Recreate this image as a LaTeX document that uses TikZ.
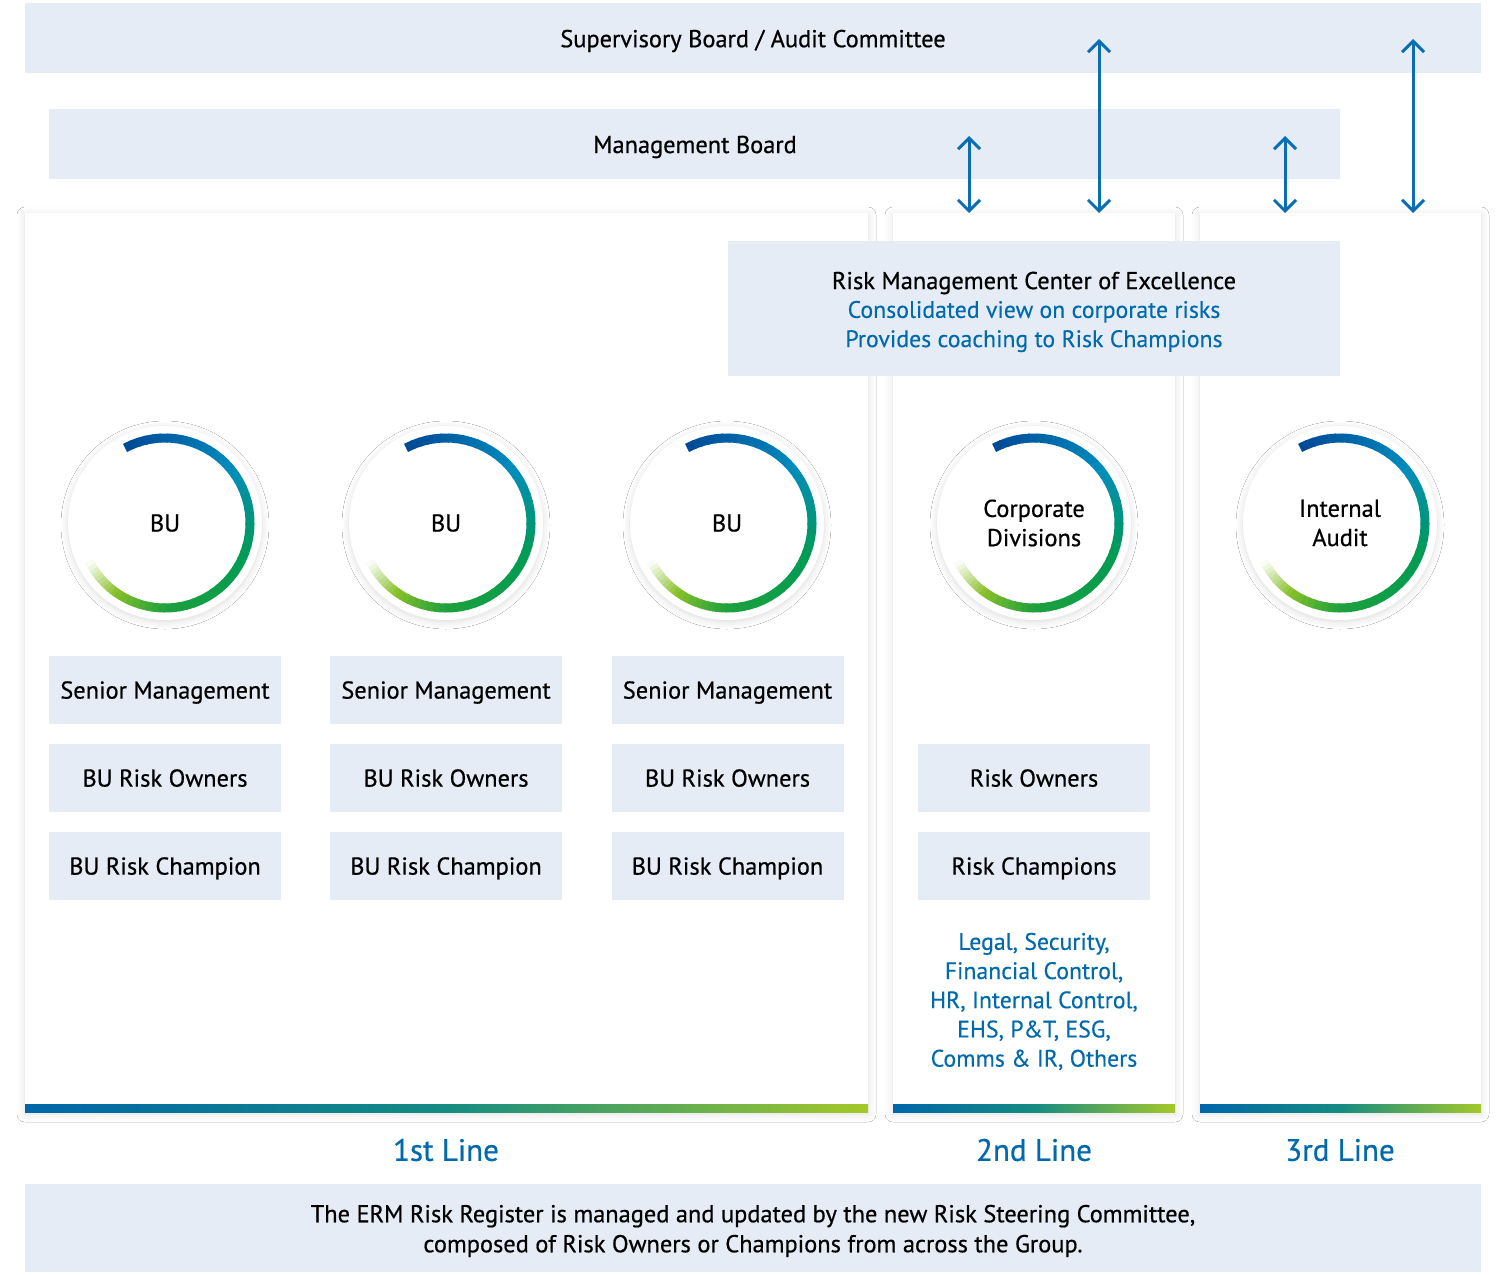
\documentclass[tikz,border=0pt]{standalone}
\usepackage{fontspec}
\setmainfont{PT Sans}[FakeBold=0.6]
\newfontfamily\bluefont{PT Sans}[FakeBold=0.3]
\usetikzlibrary{arrows.meta,calc,shadows.blur}
\definecolor{boxfill}{RGB}{230,236,246}
\definecolor{txtblue}{RGB}{0,106,172}
\definecolor{arrblue}{RGB}{10,110,180}
\definecolor{rdkblue}{RGB}{0,72,150}
\definecolor{rtblue}{RGB}{0,140,190}
\definecolor{rtgreen}{RGB}{0,155,85}
\definecolor{rgreen}{RGB}{30,160,60}
\definecolor{rygreen}{RGB}{135,192,40}
\definecolor{barblue}{RGB}{0,102,170}
\definecolor{barmid}{RGB}{20,140,130}
\definecolor{bargreen}{RGB}{165,200,40}
\newcommand\ringpart[6]{%
  \foreach \k in {1,...,#6}{%
    \pgfmathsetmacro\aa{#2+(#3-#2)*(\k-1)/#6}%
    \pgfmathsetmacro\bb{#2+(#3-#2)*(\k+0.2)/#6}%
    \pgfmathtruncatemacro\pp{100*(\k-0.5)/#6}%
    \draw[line width=4.5pt, #5!\pp!#4] ($(#1)+(\aa:42.5pt)$) arc[start angle=\aa, end angle=\bb, radius=42.5pt];
  }}
\newcommand\ring[1]{%
  \ringpart{#1}{118}{40}{rdkblue}{rtblue}{16}%
  \ringpart{#1}{40}{-20}{rtblue}{rtgreen}{12}%
  \ringpart{#1}{-20}{-90}{rtgreen}{rgreen}{14}%
  \ringpart{#1}{-90}{-125}{rgreen}{rygreen}{8}%
  \ringpart{#1}{-125}{-153}{rygreen}{white}{10}%
}
\begin{document}
\begin{tikzpicture}[x=0.5pt,y=-0.5pt,
  bodyfont/.style={font=\fontsize{12.2}{14.6}\selectfont, align=center, text=black},
  txt/.style={bodyfont, yshift=-1.5pt},
  band/.style={fill=boxfill, draw=none, inner sep=0pt},
  panel/.style={fill=white, draw=none, inner sep=0pt,
     blur shadow={shadow xshift=0pt, shadow yshift=-1pt, shadow blur radius=4pt, shadow opacity=13}},
  rolebox/.style={band, bodyfont, minimum width=116pt, minimum height=34pt, text depth=0pt, text height=8.6pt},
  disc/.style={circle, fill=white, draw=none, minimum size=97pt, inner sep=0pt, bodyfont,
     blur shadow={shadow xshift=0pt, shadow yshift=-1pt, shadow blur radius=3.5pt, shadow opacity=14}},
  biarrow/.style={draw=arrblue, line width=1.5pt, {Straight Barb[length=5.5pt,width=11pt]}-{Straight Barb[length=5.5pt,width=11pt]}},
  linelabel/.style={font=\fontsize{15.5}{18}\selectfont, text=txtblue},
  bluetxt/.style={font=\bluefont\fontsize{11.9}{14.6}\selectfont, text=txtblue, align=center, yshift=-1.5pt}]
\useasboundingbox (0,0) rectangle (1500,1275);
\fill[white] (0,0) rectangle (1500,1275);

% top bands
\node[band, minimum width=728pt, minimum height=35pt] (sup) at (753,38) {};
\node[txt] (suptxt) at (753,38) {Supervisory Board / Audit Committee};
\node[band, minimum width=645.5pt, minimum height=35pt] (mgmt) at (694.5,144) {};
\node[txt] (mgmttxt) at (695,144) {Management Board};

% panels
\node[panel, minimum width=421.5pt, minimum height=449.5pt] (p1) at (446.5,662.5) {};
\node[panel, minimum width=141pt, minimum height=449.5pt] (p2) at (1034,662.5) {};
\node[panel, minimum width=140.5pt, minimum height=449.5pt] (p3) at (1340.5,662.5) {};
\shade[left color=barblue, right color=bargreen, middle color=barmid] (25,1104) rectangle (868,1112);
\shade[left color=barblue, right color=bargreen, middle color=barmid] (893,1104) rectangle (1175,1112);
\shade[left color=barblue, right color=bargreen, middle color=barmid] (1200,1104) rectangle (1481,1112);

% arrows
\coordinate (a1t) at (969,136); \coordinate (a1b) at (969,213);
\coordinate (a2t) at (1099,39); \coordinate (a2b) at (1099,213);
\coordinate (a3t) at (1285,136); \coordinate (a3b) at (1285,213);
\coordinate (a4t) at (1413,39); \coordinate (a4b) at (1413,213);
\draw[biarrow] (a1t) -- (a1b);
\draw[biarrow] (a2t) -- (a2b);
\draw[biarrow] (a3t) -- (a3b);
\draw[biarrow] (a4t) -- (a4b);

% RMCE
\node[band, minimum width=306pt, minimum height=67.5pt] (rmce) at (1034,308.5) {};
\node[txt] (rmce1) at (1034,280) {Risk Management Center of Excellence};
\node[bluetxt] (rmce2) at (1034,323.5) {Consolidated view on corporate risks\\Provides coaching to Risk Champions};

% circles
\node[disc] (c1) at (165,523) {BU};
\node[disc] (c2) at (446,523) {BU};
\node[disc] (c3) at (727,523) {BU};
\node[disc] (c4) at (1034,523) {Corporate\\Divisions};
\node[disc] (c5) at (1340,523) {Internal\\Audit};
\ring{c1}\ring{c2}\ring{c3}\ring{c4}\ring{c5}

% role boxes
\node[rolebox] (sm1) at (165,690) {Senior Management};
\node[rolebox] (ro1) at (165,778) {BU Risk Owners};
\node[rolebox] (rc1) at (165,866) {BU Risk Champion};
\node[rolebox] (sm2) at (446,690) {Senior Management};
\node[rolebox] (ro2) at (446,778) {BU Risk Owners};
\node[rolebox] (rc2) at (446,866) {BU Risk Champion};
\node[rolebox] (sm3) at (727.5,690) {Senior Management};
\node[rolebox] (ro3) at (727.5,778) {BU Risk Owners};
\node[rolebox] (rc3) at (727.5,866) {BU Risk Champion};
\node[rolebox] (ro4) at (1034,778) {Risk Owners};
\node[rolebox] (rc4) at (1034,866) {Risk Champions};

\node[bluetxt] (divs) at (1034,998.5) {Legal, Security,\\Financial Control,\\HR, Internal Control,\\EHS, P\&T, ESG,\\Comms \& IR, Others};

% line labels
\node[linelabel] (l1) at (446,1150) {1st Line};
\node[linelabel] (l2) at (1034,1150) {2nd Line};
\node[linelabel] (l3) at (1340,1150) {3rd Line};

% bottom band
\node[band, minimum width=728pt, minimum height=44pt] (bottom) at (753,1228) {};
\node[txt, font=\fontsize{12.2}{15}\selectfont] (bottomtxt) at (753,1228) {The ERM Risk Register is managed and updated by the new Risk Steering Committee,\\composed of Risk Owners or Champions from across the Group.};
\end{tikzpicture}
\end{document}
